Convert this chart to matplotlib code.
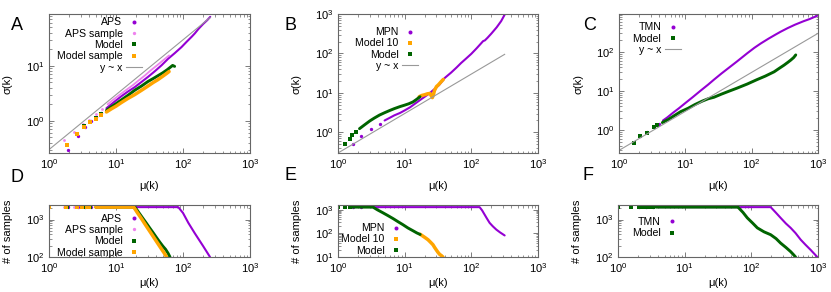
import numpy as np
import matplotlib
matplotlib.use('Agg')
import matplotlib.pyplot as plt
from matplotlib.ticker import LogLocator, LogFormatterMathtext, NullFormatter

plt.rcParams['font.family'] = ['Liberation Sans', 'DejaVu Sans']
plt.rcParams['mathtext.fontset'] = 'custom'
plt.rcParams['mathtext.rm'] = 'Liberation Sans'
plt.rcParams['mathtext.it'] = 'Liberation Sans:italic'

PURPLE = '#9400d3'
PINK = '#ee82ee'
GREEN = '#006400'
ORANGE = '#ffa500'
GRAY = '#999999'
FRAME = '#666666'

# ---------------- panel A : sigma vs mu (APS) ----------------
aps_mu = [1.9, 2.7, 3.4, 4.2, 5.0, 6.0, 7.2, 8.5, 10, 12, 15, 19, 24, 30, 38, 48, 60, 75, 95, 115, 135, 150, 170, 200, 230, 255]
aps_sig = [0.30, 0.52, 0.78, 1.0, 1.2, 1.4, 1.7, 2.0, 2.35, 2.8, 3.4, 4.1, 5.1, 6.3, 8.0, 10.3, 13.5, 17, 22, 28, 34, 39, 47, 58, 68, 78]
aps_s_mu = [1.7, 2.4, 3.2, 4.0, 5.0, 6.2, 7.5, 9, 11, 14, 18, 22, 27, 33, 40, 48, 56, 62]
aps_s_sig = [0.44, 0.64, 0.86, 1.05, 1.35, 1.65, 2.0, 2.4, 2.9, 3.6, 4.5, 5.5, 6.7, 8.3, 10, 12, 14, 15.5]
a_model_mu = [1.85, 2.6, 3.35, 4.1, 5.0, 6.0, 7.2, 8.5, 10, 12, 15, 19, 24, 30, 36, 42, 50, 58, 65, 70, 75]
a_model_sig = [0.37, 0.58, 0.79, 0.97, 1.15, 1.35, 1.55, 1.8, 2.05, 2.4, 2.9, 3.6, 4.3, 5.2, 5.9, 6.6, 7.5, 8.5, 9.5, 10.2, 9.8]
a_msamp_mu = [1.85, 2.6, 3.35, 4.1, 5.0, 6.0, 7.2, 8.5, 10, 12, 15, 19, 24, 30, 36, 42, 50, 57, 62]
a_msamp_sig = [0.37, 0.57, 0.78, 0.95, 1.1, 1.28, 1.45, 1.65, 1.85, 2.15, 2.55, 3.0, 3.6, 4.3, 5.0, 5.6, 6.5, 7.3, 7.9]
a_yx_mu = [1, 255]
a_yx_sig = [0.3, 76]

# ---------------- panel B : sigma vs mu (MPN) ----------------
mpn_mu = [1.68, 2.24, 3.16, 4.2, 5.0, 6, 7, 8.5, 10, 12, 14, 17, 20, 24, 28, 33, 40, 50, 60, 70, 84, 100, 120, 140, 150, 160, 175, 200, 240, 280, 315]
mpn_sig = [0.50, 0.79, 1.24, 1.66, 2.0, 2.35, 2.7, 3.1, 3.6, 4.3, 5.2, 6.6, 8.0, 10, 12.5, 16, 24, 33, 44, 57, 75, 98, 135, 180, 205, 215, 250, 320, 460, 660, 950]
b_model10_mu = [16.5, 18, 20, 22, 24, 25, 26, 27, 28, 30, 32, 35, 38]
b_model10_sig = [8.0, 8.6, 9.0, 9.5, 9.7, 8.5, 7.6, 9.0, 11.5, 14.5, 16, 19, 22]
b_model_mu = [1.26, 1.5, 1.64, 1.84, 2.1, 2.5, 3.0, 3.5, 4.2, 5.0, 6.0, 7.0, 8.5, 10, 11.5, 13.3, 15, 17]
b_model_sig = [0.50, 0.69, 0.84, 1.02, 1.24, 1.55, 1.95, 2.3, 2.75, 3.15, 3.6, 4.0, 4.5, 4.9, 5.3, 5.9, 6.8, 8.0]
b_yx_mu = [1, 316]
b_yx_sig = [0.3, 95]

# ---------------- panel C : sigma vs mu (TMN) ----------------
tmn_mu = [2.1, 2.6, 3.4, 4.0, 4.6, 5.35, 6.5, 8, 10, 13, 17, 22, 27, 35, 45, 60, 86, 110, 137, 180, 230, 274, 350, 450, 600, 750, 900, 1000]
tmn_sig = [0.72, 0.88, 1.18, 1.45, 1.75, 2.1, 2.75, 3.6, 4.9, 7.0, 10.2, 14.5, 19.5, 28, 39, 57, 93, 128, 165, 220, 280, 331, 410, 500, 610, 700, 800, 870]
c_model_mu = [1.7, 2.1, 2.6, 3.4, 3.8, 4.5, 5.5, 7, 8.5, 11, 14, 18, 22, 27, 35, 45, 60, 86, 120, 160, 218, 260, 308, 350, 389, 430, 462]
c_model_sig = [0.47, 0.70, 0.86, 1.17, 1.32, 1.55, 1.85, 2.4, 2.95, 3.6, 4.5, 5.5, 6.3, 6.9, 8.3, 9.8, 11.8, 15.1, 19.5, 24, 31, 38, 46, 54, 62, 72, 84]
c_yx_mu = [1, 1000]
c_yx_sig = [0.3, 300]

# ---------------- panel D : # of samples (APS) ----------------
d_aps_mu = [1.9, 2.7, 3.4, 4.2, 5.0, 6.0, 7.2, 8.5, 10, 12, 15, 19, 24, 30, 38, 48, 60, 75, 85, 100, 120, 150, 200, 253]
d_aps_n = [2150, 2150, 2150, 2150, 2150, 2150, 2150, 2150, 2150, 2150, 2150, 2150, 2150, 2150, 2150, 2150, 2150, 2150, 2150, 1500, 820, 430, 195, 100]
d_aps_s_mu = [1.7, 2.4, 3.2, 4.0, 5.0, 6.2]
d_aps_s_n = [2150, 2150, 2150, 2150, 2150, 2150]
d_model_mu = [1.85, 2.6, 3.35, 4.1, 5.0, 6.0, 7.2, 8.5, 10, 12, 15, 19.2, 22, 25, 28, 32, 36, 40, 45, 50, 55, 60, 64]
d_model_n = [2150, 2150, 2150, 2150, 2150, 2150, 2150, 2150, 2150, 2150, 2150, 2150, 1520, 1100, 830, 590, 440, 335, 250, 195, 160, 125, 100]
d_msamp_mu = [1.0, 1.77, 2.59, 3.15, 3.65, 4.0, 5.0, 6.0, 7.2, 8.5, 10, 12, 15, 18.4, 21, 24, 27, 30, 34, 38, 43, 48, 53, 57]
d_msamp_n = [2150, 2150, 2150, 2150, 2150, 2150, 2150, 2150, 2150, 2150, 2150, 2150, 2150, 2150, 1500, 1060, 765, 575, 410, 303, 217, 161, 124, 100]

# ---------------- panel E : # of samples (MPN) ----------------
e_mpn_mu = [1.68, 2.24, 3.16, 4.2, 5.0, 6, 8, 10, 14, 20, 30, 45, 65, 90, 115, 133, 145, 158, 172, 188, 210, 237, 270, 316]
e_mpn_n = [1300, 1300, 1300, 1300, 1300, 1300, 1300, 1300, 1300, 1300, 1300, 1300, 1300, 1300, 1300, 1300, 950, 630, 420, 280, 200, 145, 110, 82]
e_model10_mu = [17.1, 20, 22.4, 24.5, 26.6, 28, 29.8, 31.5, 33.4, 35.5, 37.5]
e_model10_n = [92, 68, 54, 42, 33, 26, 20, 16, 13, 11.5, 10]
e_model_mu = [1.0, 1.26, 1.5, 1.64, 1.84, 2.1, 2.5, 3.0, 3.35, 3.9, 4.73, 5.6, 6.7, 8.0, 9.4, 11.2, 13.3, 15.2, 17.1]
e_model_n = [1300, 1300, 1300, 1300, 1300, 1300, 1300, 1300, 1300, 1000, 745, 570, 425, 310, 235, 170, 130, 105, 90]

# ---------------- panel F : # of samples (TMN) ----------------
f_tmn_mu = [2.1, 2.6, 3.4, 4.0, 5.35, 8, 12, 20, 35, 60, 100, 150, 195, 235, 275, 330, 389, 460, 550, 650, 775, 975]
f_tmn_n = [2150, 2150, 2150, 2150, 2150, 2150, 2150, 2150, 2150, 2150, 2150, 2150, 2150, 1510, 1110, 785, 600, 436, 290, 212, 155, 100]
f_model_mu = [1.0, 1.55, 2.06, 2.4, 2.65, 2.9, 3.3, 3.7, 5, 8, 12, 20, 35, 50, 63, 75, 87, 105, 123, 155, 195, 235, 275, 330, 389, 430, 461]
f_model_n = [2150, 2150, 2150, 2150, 2150, 2150, 2150, 2150, 2150, 2150, 2150, 2150, 2150, 2150, 2150, 1550, 1110, 800, 600, 470, 394, 310, 235, 180, 139, 115, 100]

# marker / line style per series kind
STY = {
    'data': dict(color=PURPLE, marker='o', ms=2.4, lw=1.5),
    'data_s': dict(color=PINK, marker='o', ms=2.0, lw=1.3),
    'model': dict(color=GREEN, marker='s', ms=2.4, lw=2.1),
    'model_s': dict(color=ORANGE, marker='s', ms=2.8, lw=2.5),
}


def series(ax, mu, val, kind, label, dense_from):
    # sparse low-mu points drawn as single markers, dense part as a thick trace
    s = STY[kind]
    mu = np.asarray(mu, float)
    val = np.asarray(val, float)
    m = mu >= dense_from
    if m.any():
        ax.plot(mu[m], val[m], '-', color=s['color'], lw=s['lw'],
                solid_capstyle='round', solid_joinstyle='round')
    ax.plot(mu[~m], val[~m], ls='none', marker=s['marker'], ms=s['ms'], mew=0,
            color=s['color'], label=label)


def yx(ax, mu, sig):
    ax.plot(mu, sig, '-', color=GRAY, lw=0.8, label='y ~ x')


def style(ax, ylim, ylabel, xlabel_y):
    ax.set_xscale('log')
    ax.set_yscale('log')
    ax.set_xlim(1, 1000)
    ax.set_ylim(*ylim)
    for ax_ in (ax.xaxis, ax.yaxis):
        ax_.set_major_locator(LogLocator(base=10, numticks=10))
        ax_.set_minor_locator(LogLocator(base=10, subs=np.arange(2, 10), numticks=20))
        ax_.set_major_formatter(LogFormatterMathtext())
        ax_.set_minor_formatter(NullFormatter())
    ax.tick_params(which='both', direction='in', top=True, right=True,
                   color=FRAME, labelsize=8, pad=3)
    ax.tick_params(which='major', length=3.5, width=0.6)
    ax.tick_params(which='minor', length=1.8, width=0.5)
    for sp in ax.spines.values():
        sp.set_color(FRAME)
        sp.set_linewidth(0.8)
    ax.set_xlabel('μ(k)', fontsize=8)
    ax.xaxis.set_label_coords(0.5, xlabel_y)
    ax.set_ylabel(ylabel, fontsize=8)
    ax.yaxis.set_label_coords(-0.18, 0.5)


def legend(ax, x, y):
    ax.legend(loc='upper right', bbox_to_anchor=(x, y), frameon=False,
              markerfirst=False, numpoints=1, fontsize=7.6, handlelength=1.5,
              handletextpad=0.35, labelspacing=0.12, borderpad=0,
              borderaxespad=0, markerscale=1.2)


W, H = 831, 292
fig = plt.figure(figsize=(W / 100, H / 100), dpi=100)


def add_axes(x0, y0, x1, y1):
    return fig.add_axes([x0 / W, 1 - y1 / H, (x1 - x0) / W, (y1 - y0) / H])


axA = add_axes(49, 14, 250, 153)
axB = add_axes(338, 14, 538, 153)
axC = add_axes(619, 14, 818, 153)
axD = add_axes(49, 205, 250, 257)
axE = add_axes(338, 205, 538, 257)
axF = add_axes(618, 205, 818, 257)

# A
series(axA, aps_mu, aps_sig, 'data', 'APS', 6.5)
series(axA, aps_s_mu, aps_s_sig, 'data_s', 'APS sample', 6.5)
series(axA, a_model_mu, a_model_sig, 'model', 'Model', 6.5)
series(axA, a_msamp_mu, a_msamp_sig, 'model_s', 'Model sample', 6.5)
yx(axA, a_yx_mu, a_yx_sig)
style(axA, (0.26, 88), 'σ(k)', -0.2)
legend(axA, 0.463, 0.975)

# B
series(axB, mpn_mu, mpn_sig, 'data', 'MPN', 4.5)
series(axB, b_model10_mu, b_model10_sig, 'model_s', 'Model 10', 0)
series(axB, b_model_mu, b_model_sig, 'model', 'Model', 1.9)
yx(axB, b_yx_mu, b_yx_sig)
style(axB, (0.3, 1000), 'σ(k)', -0.2)
legend(axB, 0.40, 0.905)

# C
series(axC, tmn_mu, tmn_sig, 'data', 'TMN', 4.3)
series(axC, c_model_mu, c_model_sig, 'model', 'Model', 4.3)
yx(axC, c_yx_mu, c_yx_sig)
style(axC, (0.257, 940), 'σ(k)', -0.2)
legend(axC, 0.31, 0.94)

# D
series(axD, d_aps_mu, d_aps_n, 'data', 'APS', 5)
series(axD, d_aps_s_mu, d_aps_s_n, 'data_s', 'APS sample', 100)
series(axD, d_model_mu, d_model_n, 'model', 'Model', 4.3)
series(axD, d_msamp_mu, d_msamp_n, 'model_s', 'Model sample', 4.3)
style(axD, (100, 2450), '# of samples', -0.40)
legend(axD, 0.463, 0.83)

# E
series(axE, e_mpn_mu, e_mpn_n, 'data', 'MPN', 2.5)
series(axE, e_model10_mu, e_model10_n, 'model_s', 'Model 10', 0)
series(axE, e_model_mu, e_model_n, 'model', 'Model', 1.6)
style(axE, (10, 1600), '# of samples', -0.40)
legend(axE, 0.33, 0.65)

# F
series(axF, f_tmn_mu, f_tmn_n, 'data', 'TMN', 3.7)
series(axF, f_model_mu, f_model_n, 'model', 'Model', 3.7)
style(axF, (100, 2450), '# of samples', -0.40)
legend(axF, 0.31, 0.77)

# panel letters
for letter, (px, py) in zip('ABCDEF', [(17, 25), (290, 25), (590, 25),
                                      (17, 178), (290, 175), (588, 175)]):
    fig.text(px / W, 1 - py / H, letter, fontsize=13, ha='center', va='center')

fig.savefig('out.png', dpi=100)
